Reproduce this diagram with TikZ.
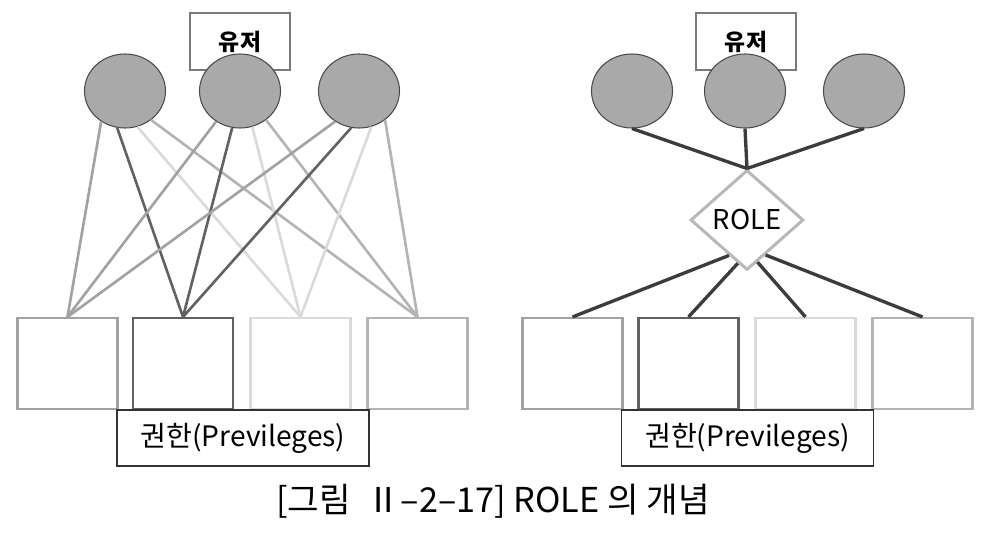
\documentclass[tikz,border=0pt]{standalone}
\usepackage{fontspec}
\setmainfont{Noto Sans CJK KR}
\usetikzlibrary{shapes.geometric}
\definecolor{dotfill}{HTML}{A9A9A9}
\definecolor{dotedge}{HTML}{4A4A4A}
\definecolor{permA}{HTML}{A2A2A2}
\definecolor{permB}{HTML}{626262}
\definecolor{permC}{HTML}{DADADA}
\definecolor{permD}{HTML}{B4B4B4}
\definecolor{tagedge}{HTML}{7A7A7A}
\definecolor{privedge}{HTML}{333333}
\definecolor{roleedge}{HTML}{B8B8B8}
\definecolor{linkdark}{HTML}{3C3C3C}
\tikzset{
  usertag/.style  = {draw=tagedge, line width=1.1pt, rectangle, fill=white,
                     minimum width=2.0cm, minimum height=1.14cm, inner sep=0pt,
                     font=\fontsize{13}{15}\selectfont\bfseries},
  userdot/.style  = {draw=dotedge, fill=dotfill, ellipse, line width=0.6pt,
                     minimum width=1.62cm, minimum height=1.48cm, inner sep=0pt},
  permbox/.style  = {line width=1.2pt, rectangle, fill=white, inner sep=0pt,
                     minimum width=2.0cm, minimum height=1.82cm},
  privtag/.style  = {draw=privedge, line width=1.1pt, rectangle, fill=white,
                     minimum width=5.04cm, minimum height=1.12cm, inner sep=0pt,
                     font=\fontsize{16}{19}\selectfont},
  rolenode/.style = {draw=roleedge, line width=1.7pt, diamond, fill=white,
                     minimum width=2.26cm, minimum height=2.0cm, inner sep=0pt,
                     font=\fontsize{15.5}{18}\selectfont},
  grant/.style    = {line width=1.5pt},
  link/.style     = {draw=linkdark, line width=1.9pt},
}

\begin{document}
\begin{tikzpicture}[x=1cm,y=1cm]
\useasboundingbox (0,0) rectangle (20.14,-10.86);
% direct grants
\begin{scope}
\node[usertag] (lt) at (4.8,-0.83) {유저};
\node[userdot] (lu1) at (2.5,-1.82) {};
\node[userdot] (lu2) at (4.8,-1.82) {};
\node[userdot] (lu3) at (7.18,-1.82) {};
\node[permbox,draw=permA] (ls1) at (1.35,-7.27) {};
\node[permbox,draw=permB] (ls2) at (3.66,-7.27) {};
\node[permbox,draw=permC] (ls3) at (6.01,-7.27) {};
\node[permbox,draw=permD] (ls4) at (8.35,-7.27) {};
\node[privtag] (lp) at (4.86,-8.76) {권한(Previleges)};
\foreach \i in {1,2,3}
  \foreach \j/\a/\c in {3/289/permC,1/232/permA,4/312/permD,2/258/permB}
    \draw[grant,draw=\c] (lu\i.\a) -- (ls\j.north);
\end{scope}
% grants through ROLE
\begin{scope}[xshift=10.1cm]
\node[usertag] (rt) at (4.82,-0.83) {유저};
\node[userdot] (ru1) at (2.54,-1.82) {};
\node[userdot] (ru2) at (4.8,-1.82) {};
\node[userdot] (ru3) at (7.18,-1.82) {};
\node[rolenode] (role) at (4.84,-4.4) {ROLE};
\node[permbox,draw=permA] (rs1) at (1.35,-7.27) {};
\node[permbox,draw=permB] (rs2) at (3.67,-7.27) {};
\node[permbox,draw=permC] (rs3) at (6.01,-7.27) {};
\node[permbox,draw=permD] (rs4) at (8.35,-7.27) {};
\node[privtag] (rp) at (4.85,-8.76) {권한(Previleges)};
\foreach \i in {1,2,3}
  \draw[link] (ru\i.south) -- (role.north);
\foreach \j/\a in {1/243,2/258,3/284,4/298}
  \draw[link] (role.\a) -- (rs\j.north);
\end{scope}
\node[font=\fontsize{19.5}{23}\selectfont] (cap) at (9.86,-10.02) {[그림 \ Ⅱ–2–17] ROLE 의 개념};
\end{tikzpicture}
\end{document}
